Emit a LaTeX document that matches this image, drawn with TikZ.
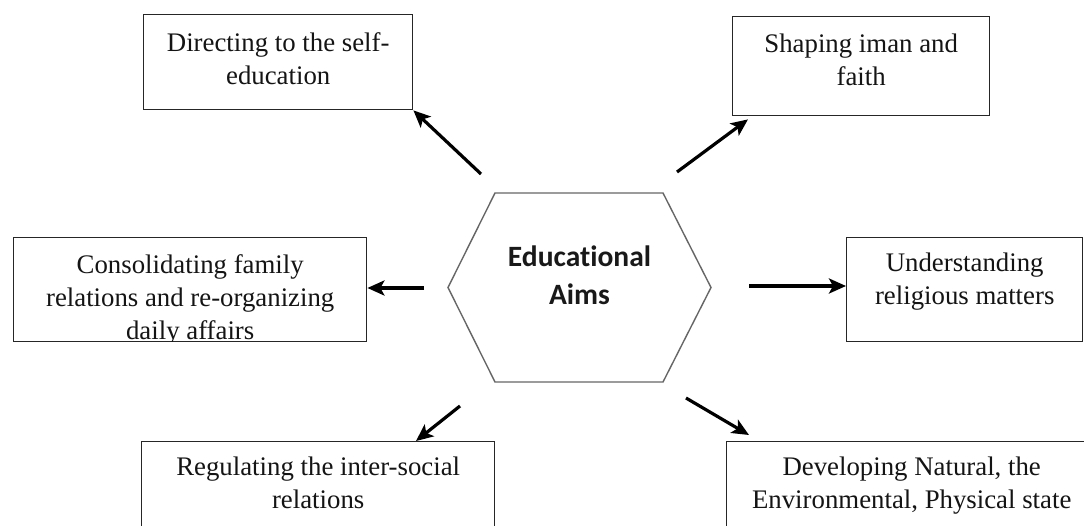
\documentclass[tikz,border=0pt]{standalone}
\usepackage{fontspec}
\setmainfont{Liberation Serif}
\newfontfamily\hexfont[Ligatures=NoCommon]{Carlito}
\usetikzlibrary{arrows.meta}
\tikzset{
  aimbox/.style={draw=black!85, line width=1.4pt, anchor=north west, inner sep=0pt, fill=white},
  aimtext/.style={anchor=north, inner sep=0pt, align=center, text=black!92,
    font=\fontsize{26.8}{33}\selectfont},
  hexline/.style={draw=black!60, line width=1.4pt, line join=miter},
  hextext/.style={anchor=north, inner sep=0pt, align=center, text=black!90,
    font=\hexfont\bfseries\fontsize{29.5}{38}\selectfont},
  arr/.style={line width=3.2pt, -{Stealth[length=17pt,width=15pt,inset=4pt]}}
}
\begin{document}
\begin{tikzpicture}[x=1pt,y=-1pt]
\clip (0,0) rectangle (1084,526);
\fill[white] (0,0) rectangle (1084,526);

% central hexagon
\coordinate (h1) at (495,193);
\coordinate (h2) at (663,193);
\coordinate (h3) at (711,287.5);
\coordinate (h4) at (663,382);
\coordinate (h5) at (495,382);
\coordinate (h6) at (448,287.5);
\draw[hexline] (h1) -- (h2) -- (h3) -- (h4) -- (h5) -- (h6) -- cycle;
\node[hextext] (c) at (579.5,246) {Educational\\Aims};

% boxes
\node[aimbox, minimum width=269pt, minimum height=95pt] (b1) at (143,14) {};
\node[aimtext] (t1) at ([yshift=-18pt]b1.north) {Directing to the self-\\education};

\node[aimbox, minimum width=257pt, minimum height=99pt] (b2) at (732,16) {};
\node[aimtext] (t2) at ([yshift=-18pt]b2.north) {Shaping iman and\\faith};

\node[aimbox, minimum width=353pt, minimum height=104pt] (b3) at (13,237) {};
\begin{scope}
  \clip ([shift={(0.7pt,-0.7pt)}]b3.north west) rectangle ([shift={(-0.7pt,0.7pt)}]b3.south east);
  \node[aimtext] (t3) at ([yshift=-17pt]b3.north) {Consolidating family\\relations and re-organizing\\daily affairs};
\end{scope}

\node[aimbox, minimum width=236pt, minimum height=104pt] (b4) at (846,237) {};
\node[aimtext] (t4) at ([yshift=-16pt]b4.north) {Understanding\\religious matters};

\node[aimbox, minimum width=353pt, minimum height=100pt] (b5) at (141,441) {};
\node[aimtext] (t5) at ([yshift=-16pt]b5.north) {Regulating the inter-social\\relations};

\node[aimbox, minimum width=370pt, minimum height=100pt] (b6) at (726,441) {};
\node[aimtext] (t6) at ([yshift=-16pt]b6.north) {Developing Natural, the\\Environmental, Physical state};

% arrow tails
\coordinate (a1) at (481,174);
\coordinate (a2) at (677,172);
\coordinate (a3) at (424,288);
\coordinate (a4) at (749,286);
\coordinate (a5) at (460,406);
\coordinate (a6) at (686,398);

\draw[arr] (a1) -- (b1.south east);
\draw[arr] (a2) -- ([xshift=16pt,yshift=-3pt]b2.south west);
\draw[arr] (a3) -- (b3.east |- a3);
\draw[arr] (a4) -- (b4.west |- a4);
\draw[arr] (a5) -- ([xshift=275pt]b5.north west);
\draw[arr] (a6) -- ([xshift=23pt,yshift=6pt]b6.north west);
\end{tikzpicture}
\end{document}
